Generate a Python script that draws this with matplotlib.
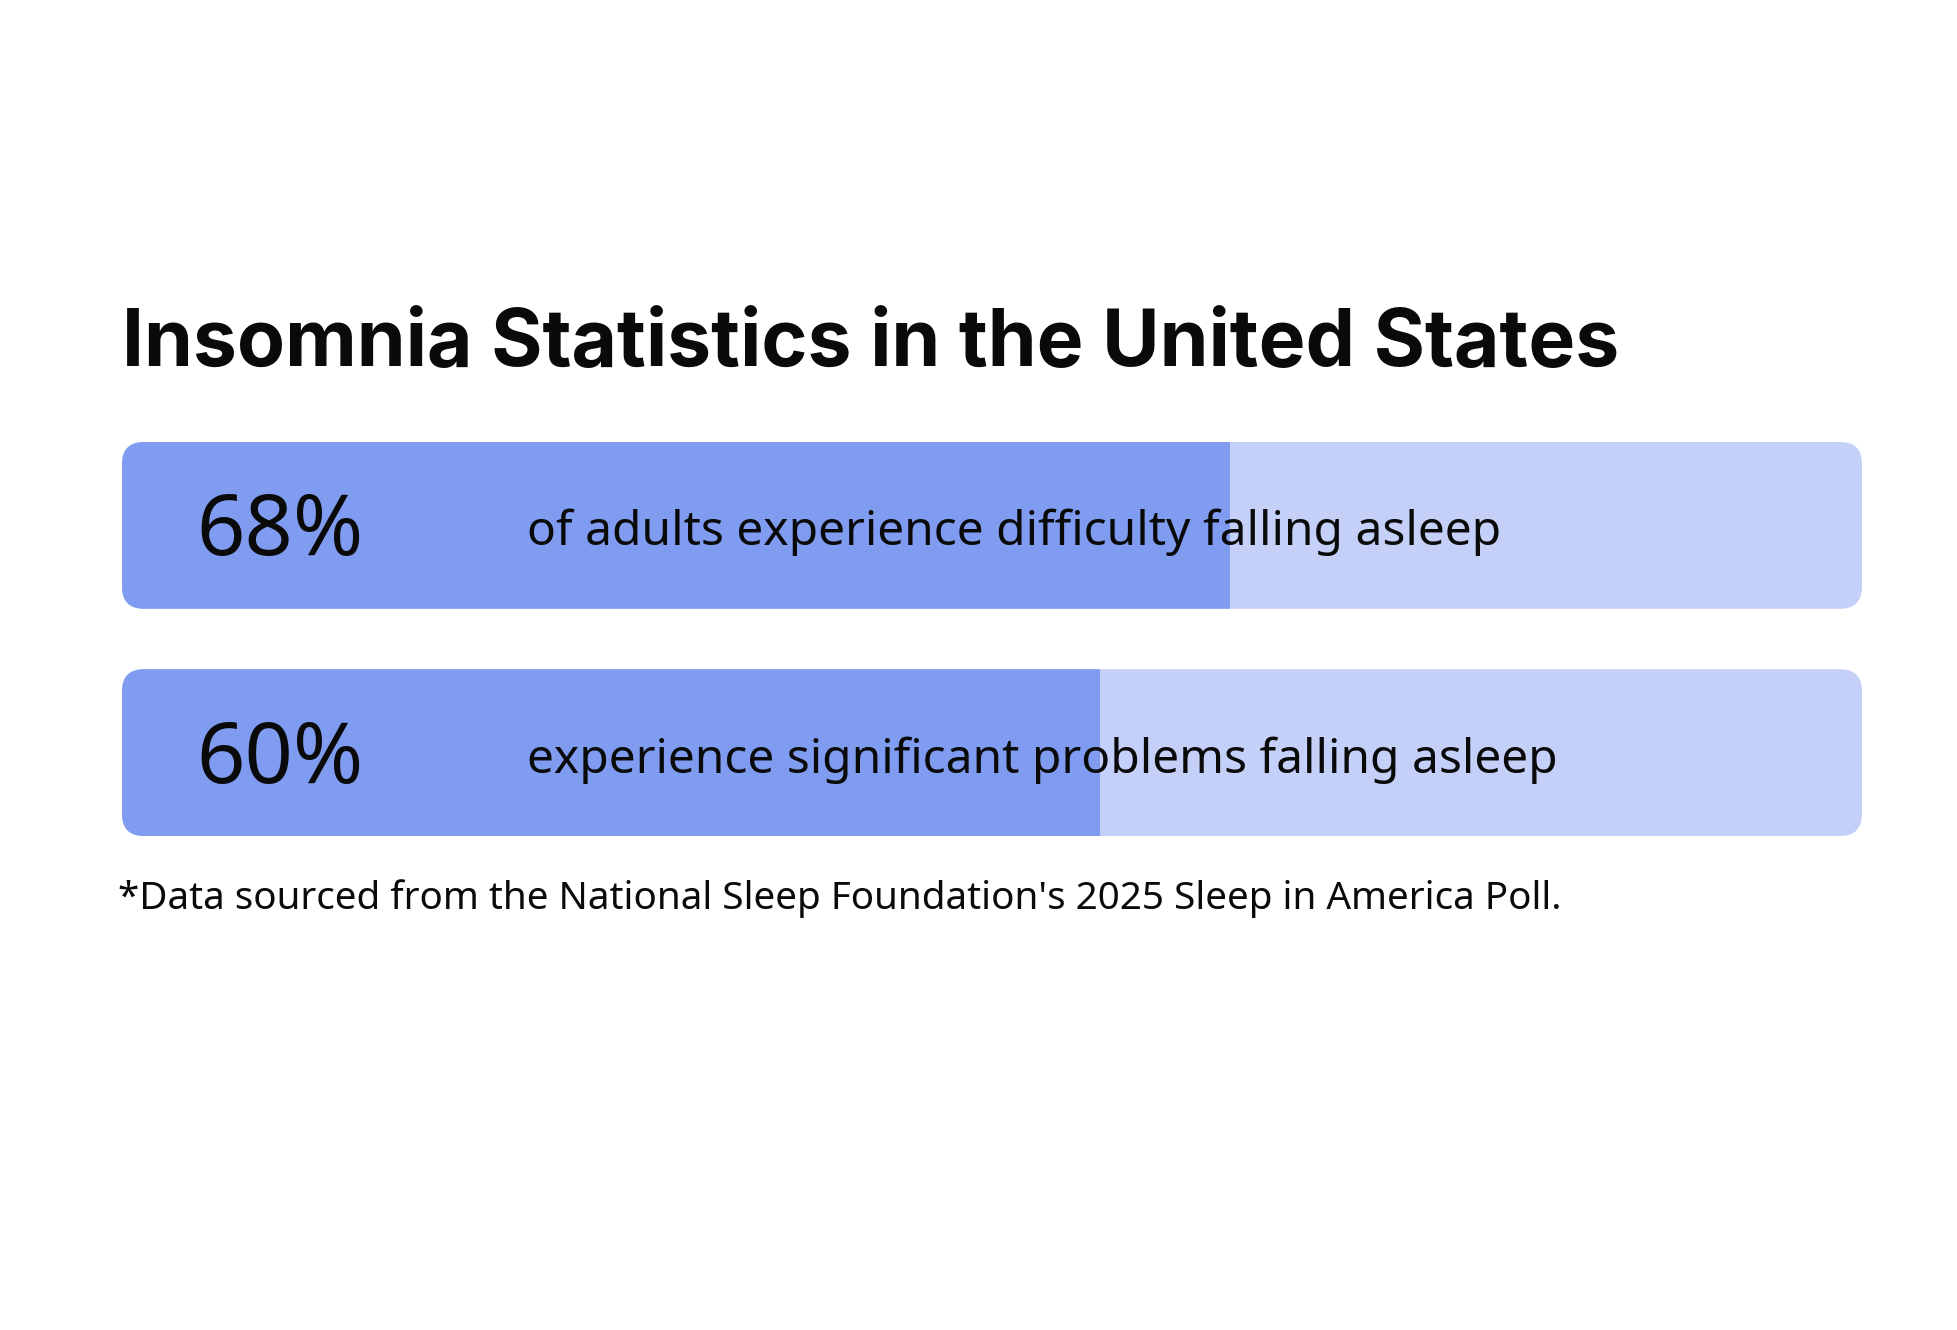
import matplotlib
matplotlib.use("Agg")
import matplotlib.pyplot as plt
from matplotlib.patches import FancyBboxPatch

# ---- data ----
title = "Insomnia Statistics in the United States"
values = [68, 60]
value_labels = ["68%", "60%"]
descriptions = ["of adults experience difficulty falling asleep",
                "experience significant problems falling asleep"]
footnote = "*Data sourced from the National Sleep Foundation's 2025 Sleep in America Poll."

# ---- style ----
W, H = 1957, 1330
DPI = 100
FILL = "#7f9cf0"
TRACK = "#c5d0f8"
TRACK_MAX = 106.8
BODY_FONT = ["Noto Sans", "DejaVu Sans"]
TITLE_FONT = ["Inter", "DejaVu Sans"]

fig = plt.figure(figsize=(W / DPI, H / DPI), dpi=DPI)
fig.patch.set_facecolor("white")

# axes spanning the bars (pixel-based layout)
ax_l, ax_r, ax_t, ax_b = 122, 1862, 442, 836
ax = fig.add_axes([ax_l / W, 1 - ax_b / H, (ax_r - ax_l) / W, (ax_b - ax_t) / H])
ax.set_axis_off()
n = len(values)
bar_h = 0.734
ax.set_xlim(0, TRACK_MAX)
ax.set_ylim(n - 1 + bar_h / 2, -bar_h / 2)

xpp = TRACK_MAX / (ax_r - ax_l)
ypp = (n - 1 + bar_h) / (ax_b - ax_t)
radius_px = 22
aspect = ypp / xpp

for i, (v, lab, desc) in enumerate(zip(values, value_labels, descriptions)):
    track = FancyBboxPatch((0, i - bar_h / 2), TRACK_MAX, bar_h,
                           boxstyle=f"round,pad=0,rounding_size={radius_px * xpp}",
                           mutation_aspect=aspect,
                           facecolor=TRACK, edgecolor="none", zorder=1)
    ax.add_patch(track)
    bars = ax.barh([i], [v], height=bar_h, left=0, color=FILL, zorder=2)
    for b in bars:
        b.set_clip_path(track)
    ax.text(0.043 * TRACK_MAX, i + 30 * ypp, lab, fontsize=61, family=BODY_FONT,
            ha="left", va="baseline", color="#0a0a0a", zorder=3)
    ax.text(0.233 * TRACK_MAX, i + 20 * ypp, desc, fontsize=34.5, family=BODY_FONT,
            ha="left", va="baseline", color="#0a0a0a", zorder=3)

fig.text(122 / W, 1 - 366 / H, title, fontsize=56.6, fontweight="bold",
         family=TITLE_FONT, ha="left", va="baseline", color="#0a0a0a")
fig.text(118 / W, 1 - 909 / H, footnote, fontsize=27.8, family=BODY_FONT,
         ha="left", va="baseline", color="#0a0a0a")

fig.savefig("out.png", dpi=DPI, facecolor="white")
